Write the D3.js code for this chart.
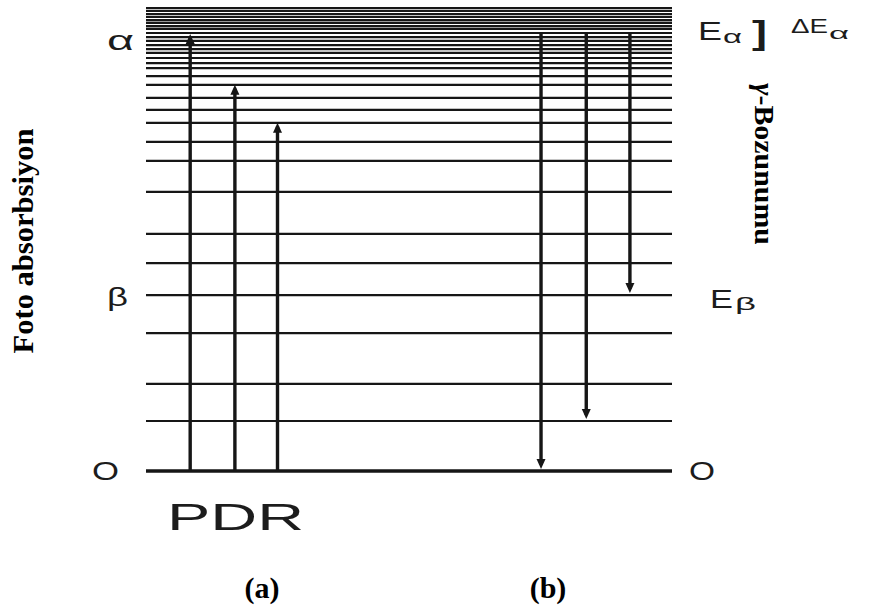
<!DOCTYPE html>
<html>
<head>
<meta charset="utf-8">
<script src="https://cdn.jsdelivr.net/npm/d3@7"></script>
<style>
  html, body { margin: 0; padding: 0; background: #fff; }
  svg { display: block; }
</style>
</head>
<body>
<svg id="chart" width="891" height="615"></svg>
<script>
// Nuclear energy levels (MeV above the ground state); the spacing shrinks with energy
const levels = [10.00, 9.94, 9.87, 9.81, 9.74, 9.68, 9.61, 9.55, 9.46, 9.37, 9.29, 9.20,
                9.11, 9.03, 8.92, 8.81, 8.70, 8.53, 8.34, 8.06, 7.80, 7.52, 7.11, 6.70,
                6.03, 5.12, 4.49, 3.80, 2.98, 1.88, 1.08];
const groundLevel = 0;
const E_alpha = 9.44;
const E_beta = 3.80;

// (a) photo-absorption: ground state -> excited level, at horizontal positions (0-100)
const absorptionTargets = [9.44, 8.34, 7.52];
const absorptionPos = [8.4, 16.9, 25.0];

// (b) gamma decay: from E_alpha down to lower levels
const decayTargets = [0, 1.08, 3.80];
const decayPos = [75.1, 83.7, 92.0];

const svg = d3.select("#chart");
const y = d3.scaleLinear().domain([0, 10]).range([471, 8]);
const x = d3.scaleLinear().domain([0, 100]).range([146, 672]);

const ink = "#161616";
const sans = "'Liberation Sans', Arial, sans-serif";
const serif = "'Liberation Serif', 'Times New Roman', serif";

// level lines
svg.append("g").selectAll("line").data(levels).join("line")
  .attr("x1", x(0)).attr("x2", x(100))
  .attr("y1", d => y(d)).attr("y2", d => y(d))
  .attr("stroke", ink).attr("stroke-width", 2.2);

// ground state
svg.append("line")
  .attr("x1", x(0)).attr("x2", x(100))
  .attr("y1", y(groundLevel)).attr("y2", y(groundLevel))
  .attr("stroke", ink).attr("stroke-width", 3.5);

// transition arrows
function arrow(g, xp, from, to) {
  const xa = x(xp), y0 = y(from), up = to > from;
  const tip = up ? y(to) : y(to) - 2;
  const hl = 10, hw = 4.5;
  const base = up ? tip + hl : tip - hl;
  g.append("line")
    .attr("x1", xa).attr("x2", xa)
    .attr("y1", y0).attr("y2", up ? tip + 4 : tip - 4)
    .attr("stroke", ink).attr("stroke-width", 3.4);
  g.append("path")
    .attr("d", `M${xa},${tip}L${xa - hw},${base}L${xa + hw},${base}Z`)
    .attr("fill", ink);
}
const arrows = svg.append("g");
absorptionTargets.forEach((t, i) => arrow(arrows, absorptionPos[i], groundLevel, t));
decayTargets.forEach((t, i) => arrow(arrows, decayPos[i], E_alpha, t));

// level labels
function label(txt, xp, yp, size, len, opts = {}) {
  const t = svg.append("text")
    .attr("x", xp).attr("y", yp)
    .attr("font-family", opts.family || sans)
    .attr("font-size", size)
    .attr("font-weight", opts.weight || "normal")
    .attr("fill", opts.fill || "#1c1c1c")
    .text(txt);
  if (len) t.attr("textLength", len).attr("lengthAdjust", "spacingAndGlyphs");
  if (opts.anchor) t.attr("text-anchor", opts.anchor);
  return t;
}

label("α", 107, y(E_alpha) + 16, 27, 27);
label("β", 107, y(E_beta) + 11, 26, 21);
label("O", 92, y(groundLevel) + 9, 25, 27);
label("O", 689, y(groundLevel) + 9, 25, 26);

label("E", 698, 40, 25, 24);
label("α", 723, 43, 19, 19);
label("]", 752, 44, 34, 15, { weight: "bold" });
label("ΔE", 791, 33, 20, 37);
label("α", 829, 39, 16, 20);

label("E", 710, y(E_beta) + 13, 25, 23);
label("β", 735, y(E_beta) + 15, 19, 21);

label("PDR", 167, 530, 37, 137);

// panel captions and axis titles
label("(a)", 262, 598, 30, null, { family: serif, weight: "bold", anchor: "middle", fill: "#000" });
label("(b)", 548, 598, 30, null, { family: serif, weight: "bold", anchor: "middle", fill: "#000" });

svg.append("text")
  .attr("transform", "translate(33,241) rotate(-90)")
  .attr("text-anchor", "middle")
  .attr("font-family", serif).attr("font-weight", "bold").attr("font-size", 29)
  .attr("textLength", 225).attr("lengthAdjust", "spacingAndGlyphs")
  .attr("fill", "#000")
  .text("Foto absorbsiyon");

const gt = svg.append("text")
  .attr("transform", "translate(755,164) rotate(90)")
  .attr("text-anchor", "middle")
  .attr("font-family", serif).attr("font-weight", "bold").attr("font-size", 28)
  .attr("textLength", 162).attr("lengthAdjust", "spacingAndGlyphs")
  .attr("fill", "#000");
gt.append("tspan").attr("font-style", "italic").text("γ");
gt.append("tspan").text("-Bozunumu");
</script>
</body>
</html>
